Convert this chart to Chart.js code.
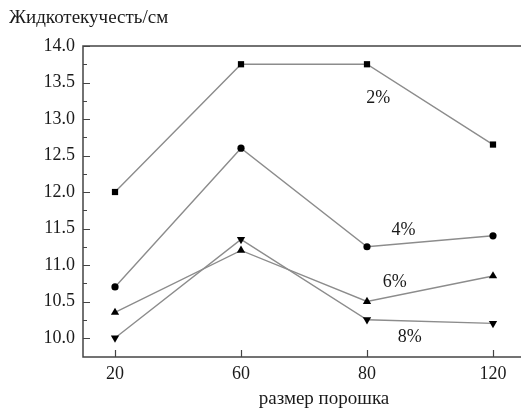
<!DOCTYPE html>
<html>
<head>
<meta charset="utf-8">
<script src="https://cdn.jsdelivr.net/npm/chart.js@4"></script>
<style>
  body { margin: 0; overflow: hidden; background: #fff; }
  canvas { display: block; }
</style>
</head>
<body>
<canvas id="chart" width="530" height="408"></canvas>
<script>
// powder size categories and fluidity values (cm) for each additive share
const categories = ["20", "60", "80", "120"];
const seriesNames = ["2%", "4%", "6%", "8%"];
const values2 = [12.0, 13.75, 13.75, 12.65];
const values4 = [10.7, 12.6, 11.25, 11.4];
const values6 = [10.35, 11.2, 10.5, 10.85];
const values8 = [10.0, 11.35, 10.25, 10.2];
const yTicks = [10.0, 10.5, 11.0, 11.5, 12.0, 12.5, 13.0, 13.5, 14.0];

const FONT = "'Liberation Serif', 'Times New Roman', serif";
const LINE = "#8c8c8c";

const toPoints = (arr) => arr.map((v, i) => ({ x: i, y: v }));

// where each series name sits, in data units (x index, y value)
const labelSpots = [
  { x: 2.09, y: 13.29 },
  { x: 2.29, y: 11.48 },
  { x: 2.22, y: 10.76 },
  { x: 2.34, y: 10.01 },
];

const framePlugin = {
  id: "frame",
  afterDatasetsDraw(chart) {
    const { ctx, chartArea: a, scales } = chart;
    ctx.save();
    ctx.strokeStyle = "#444";
    ctx.lineWidth = 1.5;
    ctx.strokeRect(a.left, a.top, a.right - a.left, a.bottom - a.top);

    // inward tick marks
    ctx.lineWidth = 1.2;
    ctx.beginPath();
    for (let v = 10.0; v <= 14.0001; v += 0.25) {
      const y = Math.round(scales.y.getPixelForValue(v)) + 0.5;
      const major = Math.abs(v * 2 - Math.round(v * 2)) < 1e-6;
      ctx.moveTo(a.left, y);
      ctx.lineTo(a.left + (major ? 7 : 4), y);
    }
    categories.forEach((c, i) => {
      const x = Math.round(scales.x.getPixelForValue(i)) + 0.5;
      ctx.moveTo(x, a.bottom);
      ctx.lineTo(x, a.bottom - 7);
    });
    ctx.stroke();

    // series names
    ctx.fillStyle = "#1a1a1a";
    ctx.font = "18px " + FONT;
    ctx.textAlign = "center";
    ctx.textBaseline = "middle";
    seriesNames.forEach((name, i) => {
      const p = labelSpots[i];
      ctx.fillText(name, scales.x.getPixelForValue(p.x), scales.y.getPixelForValue(p.y));
    });

    // axis titles
    ctx.font = "19px " + FONT;
    ctx.textAlign = "left";
    ctx.fillText("Жидкотекучесть/см", 9, 18);
    ctx.textAlign = "center";
    ctx.fillText("размер порошка", 324, 399);
    ctx.restore();
  },
};

const baseSet = {
  borderColor: LINE,
  borderWidth: 1.4,
  pointBackgroundColor: "#000",
  pointBorderColor: "#000",
  pointBorderWidth: 0,
  tension: 0,
};

new Chart(document.getElementById("chart"), {
  type: "line",
  data: {
    datasets: [
      { ...baseSet, label: seriesNames[0], data: toPoints(values2), pointStyle: "rect", pointRadius: 4.4 },
      { ...baseSet, label: seriesNames[1], data: toPoints(values4), pointStyle: "circle", pointRadius: 3.6 },
      { ...baseSet, label: seriesNames[2], data: toPoints(values6), pointStyle: "triangle", pointRadius: 4.8 },
      { ...baseSet, label: seriesNames[3], data: toPoints(values8), pointStyle: "triangle", pointRotation: 180, pointRadius: 4.8 },
    ],
  },
  options: {
    responsive: false,
    animation: false,
    layout: { padding: { top: 46, right: 5, left: 0, bottom: 0 } },
    plugins: { legend: { display: false }, tooltip: { enabled: false } },
    scales: {
      x: {
        type: "linear",
        min: -0.254,
        max: 3.254,
        grid: { display: false, drawTicks: false },
        border: { display: false },
        afterBuildTicks: (scale) => {
          scale.ticks = categories.map((c, i) => ({ value: i }));
        },
        afterFit: (scale) => { scale.height = 51; },
        ticks: {
          padding: 6,
          color: "#1a1a1a",
          font: { family: FONT, size: 18 },
          callback: (v) => categories[v],
        },
      },
      y: {
        min: 9.74,
        max: 14.0,
        grid: { display: false, drawTicks: false },
        border: { display: false },
        afterBuildTicks: (scale) => {
          scale.ticks = yTicks.map((v) => ({ value: v }));
        },
        afterFit: (scale) => { scale.width = 83; },
        ticks: {
          padding: 8,
          color: "#1a1a1a",
          font: { family: FONT, size: 18 },
          callback: (v) => Number(v).toFixed(1),
        },
      },
    },
  },
  plugins: [framePlugin],
});
</script>
</body>
</html>
